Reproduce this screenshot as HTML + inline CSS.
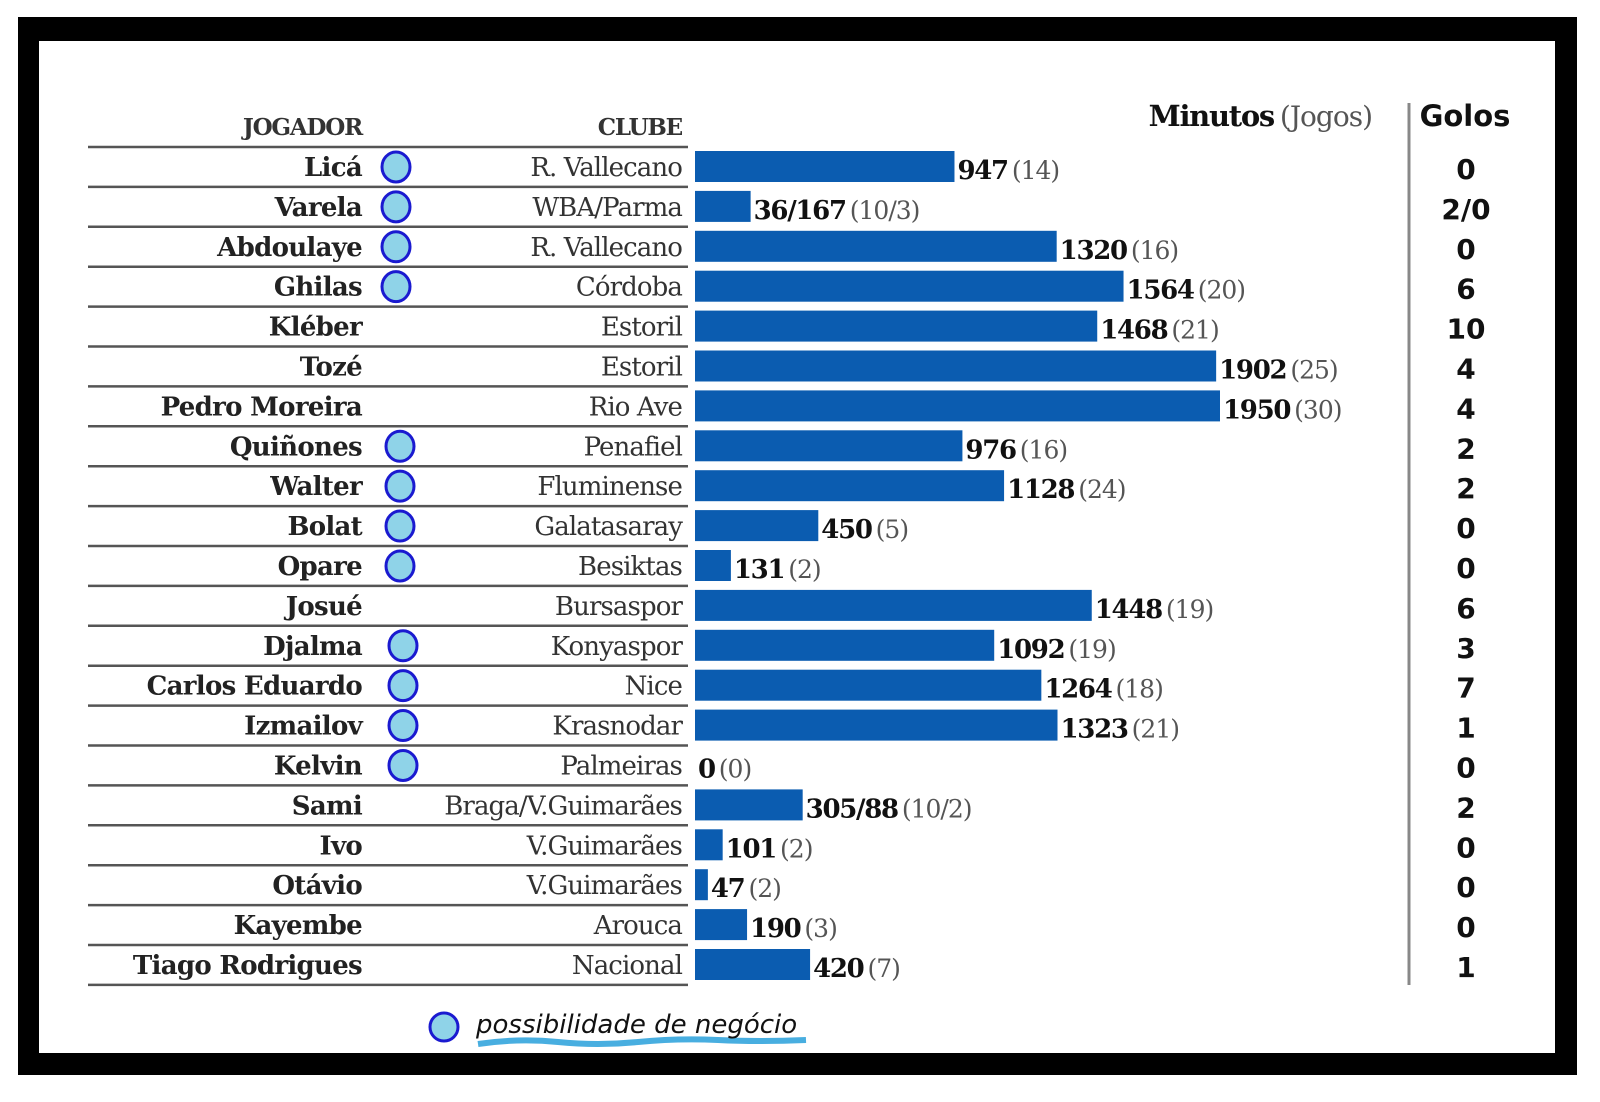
<!DOCTYPE html>
<html><head><meta charset="utf-8"><style>
html,body{margin:0;padding:0;background:#fff;}
svg{display:block}
.nm{font-family:"DejaVu Serif",serif;font-weight:bold;font-size:26px;letter-spacing:-0.7px;fill:#222}
.cl{font-family:"DejaVu Serif",serif;font-size:26px;letter-spacing:-0.9px;fill:#333}
.hd{font-family:"DejaVu Serif",serif;font-weight:bold;font-size:23px;letter-spacing:-1.2px;fill:#333}
.vb{font-family:"DejaVu Serif",serif;font-weight:bold;font-size:26px;letter-spacing:-1.3px;fill:#111}
.vg{font-family:"DejaVu Serif",serif;font-size:25px;letter-spacing:-1px;fill:#555}
.gl{font-family:"DejaVu Sans",sans-serif;font-weight:bold;font-size:28px;fill:#111}
</style></head><body>
<svg id="chart" width="1600" height="1102" viewBox="0 0 1600 1102">
<rect x="18" y="17" width="1559" height="1058" fill="#000"/>
<rect x="39" y="41" width="1516" height="1012" fill="#fff"/>
<text x="362" y="135" text-anchor="end" class="hd">JOGADOR</text>
<text x="682" y="135" text-anchor="end" class="hd">CLUBE</text>
<text x="1372" y="126" text-anchor="end"><tspan class="vb" style="font-size:29px">Minutos</tspan><tspan class="vg" style="font-size:28px" dx="6">(Jogos)</tspan></text>
<text x="1465" y="126" text-anchor="middle" class="gl" style="font-size:29px">Golos</text>
<line x1="1409" y1="103" x2="1409" y2="985" stroke="#888" stroke-width="3"/>
<g id="rows"></g>
<ellipse cx="444" cy="1027" rx="14" ry="14" fill="#8fd3e8" stroke="#1a1ad0" stroke-width="3"/>
<path d="M478 1044 q40 -6 80 -2 t80 0 t80 -2 t88 0" stroke="#1a9ad8" stroke-width="6" fill="none" opacity="0.8"/>
<text x="476" y="1033" font-family="DejaVu Sans, sans-serif" font-style="italic" font-size="26" fill="#111">possibilidade de negócio</text>
</svg>
<script>
const players = ["Licá","Varela","Abdoulaye","Ghilas","Kléber","Tozé","Pedro Moreira","Quiñones","Walter","Bolat","Opare","Josué","Djalma","Carlos Eduardo","Izmailov","Kelvin","Sami","Ivo","Otávio","Kayembe","Tiago Rodrigues"];
const clubs = ["R. Vallecano","WBA/Parma","R. Vallecano","Córdoba","Estoril","Estoril","Rio Ave","Penafiel","Fluminense","Galatasaray","Besiktas","Bursaspor","Konyaspor","Nice","Krasnodar","Palmeiras","Braga/V.Guimarães","V.Guimarães","V.Guimarães","Arouca","Nacional"];
const minutes = [947,203,1320,1564,1468,1902,1950,976,1128,450,131,1448,1092,1264,1323,0,393,101,47,190,420];
const minuteLabels = ["947","36/167","1320","1564","1468","1902","1950","976","1128","450","131","1448","1092","1264","1323","0","305/88","101","47","190","420"];
const gameLabels = ["(14)","(10/3)","(16)","(20)","(21)","(25)","(30)","(16)","(24)","(5)","(2)","(19)","(19)","(18)","(21)","(0)","(10/2)","(2)","(2)","(3)","(7)"];
const goals = ["0","2/0","0","6","10","4","4","2","2","0","0","6","3","7","1","0","2","0","0","0","1"];
const negotiable = [1,1,1,1,0,0,0,1,1,1,1,0,1,1,1,1,0,0,0,0,0];

const NS="http://www.w3.org/2000/svg";
const g=document.getElementById('rows');
const rowTop=147, rowH=39.9, barX=695, kx=0.274, maxW=525;
function xw(v){return Math.min(v*kx,maxW);}
function mk(tag,attrs,txt){const e=document.createElementNS(NS,tag);for(const k in attrs)e.setAttribute(k,attrs[k]);if(txt!==undefined)e.textContent=txt;g.appendChild(e);return e;}
let hl=mk('line',{x1:88,x2:688,y1:rowTop,y2:rowTop,stroke:'#555','stroke-width':2.5});


players.forEach((p,i)=>{
  const y0=rowTop+i*rowH, cy=y0+rowH/2, base=cy+9;
  const ln=mk('line',{x1:88,x2:688,y1:y0+rowH,y2:y0+rowH,stroke:'#555','stroke-width':2.5});
  
  
  const t=mk('text',{x:362,y:base,'text-anchor':'end',class:'nm'},p);
  
  
  if(negotiable[i]){
    const cx=i<4?396:(i<11?400:403);
    const c=mk('ellipse',{cx:cx,cy:cy,rx:14,ry:15,fill:'#8fd3e8',stroke:'#1a1ad0','stroke-width':3});
    
    
  }
  const c2=mk('text',{x:682,y:base,'text-anchor':'end',class:'cl'},clubs[i]);
  
  
  const w=xw(minutes[i]);
  if(w>0){
    const b=mk('rect',{x:barX,y:y0+4,width:w,height:31,fill:'#0b5cb0'});
    
    
  }
  const lbl=mk('text',{x:barX+w+3,y:base+3});
  
  
  const s1=document.createElementNS(NS,'tspan');s1.setAttribute('class','vb');s1.textContent=minuteLabels[i];lbl.appendChild(s1);
  const s2=document.createElementNS(NS,'tspan');s2.setAttribute('class','vg');s2.setAttribute('dx','4');s2.textContent=gameLabels[i];lbl.appendChild(s2);
  const gt=mk('text',{x:1466,y:base+3,'text-anchor':'middle',class:'gl'},goals[i]);
  
  
});
</script>
</body></html>
